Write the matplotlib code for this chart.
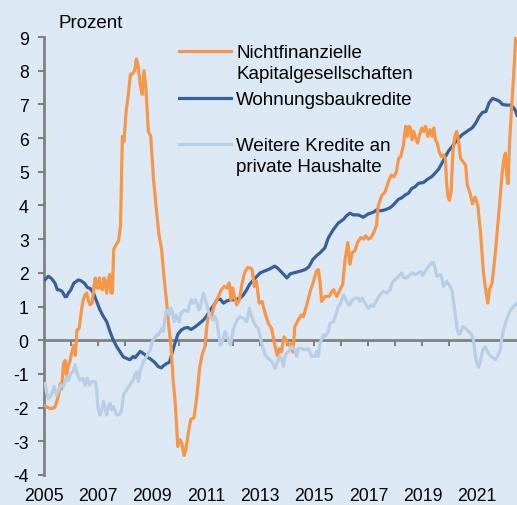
import matplotlib
matplotlib.use("Agg")
import matplotlib.pyplot as plt
from matplotlib.lines import Line2D

plt.rcParams['font.family'] = ['Liberation Sans', 'DejaVu Sans']
plt.rcParams['axes.unicode_minus'] = False

# ---------------- data ----------------
orange_years = [2005.04, 2005.15, 2005.25, 2005.4, 2005.48, 2005.55, 2005.6, 2005.65, 2005.72, 2005.78,
                2005.83, 2005.9, 2005.97, 2006.03, 2006.1, 2006.16, 2006.22, 2006.3, 2006.38, 2006.45,
                2006.52, 2006.58, 2006.64, 2006.7, 2006.78, 2006.85, 2006.9, 2006.95, 2007.0, 2007.05,
                2007.1, 2007.16, 2007.22, 2007.27, 2007.32, 2007.37, 2007.43, 2007.48, 2007.53, 2007.58,
                2007.68, 2007.76, 2007.83, 2007.9, 2007.96, 2008.04, 2008.12, 2008.2, 2008.27, 2008.35,
                2008.42, 2008.48, 2008.56, 2008.63, 2008.7, 2008.77, 2008.86, 2008.95, 2009.05, 2009.15,
                2009.25, 2009.35, 2009.45, 2009.54, 2009.62, 2009.7, 2009.78, 2009.86, 2009.95, 2010.03,
                2010.1, 2010.18, 2010.25, 2010.33, 2010.43, 2010.55, 2010.65, 2010.76, 2010.86, 2010.95,
                2011.03, 2011.1, 2011.2, 2011.3, 2011.43, 2011.56, 2011.68, 2011.78, 2011.85, 2011.92,
                2011.98, 2012.05, 2012.13, 2012.23, 2012.32, 2012.42, 2012.52, 2012.62, 2012.7, 2012.78,
                2012.86, 2012.96, 2013.07, 2013.18, 2013.3, 2013.42, 2013.54, 2013.63, 2013.7, 2013.78,
                2013.88, 2013.96, 2014.06, 2014.14, 2014.21, 2014.28, 2014.4, 2014.52, 2014.6, 2014.72,
                2014.85, 2014.97, 2015.08, 2015.15, 2015.21, 2015.27, 2015.4, 2015.55, 2015.65, 2015.72,
                2015.83, 2015.95, 2016.05, 2016.14, 2016.24, 2016.32, 2016.4, 2016.5, 2016.6, 2016.72,
                2016.82, 2016.9, 2017.0, 2017.1, 2017.2, 2017.3, 2017.37, 2017.5, 2017.62, 2017.74,
                2017.85, 2017.95, 2018.04, 2018.12, 2018.2, 2018.3, 2018.38, 2018.45, 2018.5, 2018.56,
                2018.62, 2018.68, 2018.75, 2018.82, 2018.9, 2018.98, 2019.05, 2019.12, 2019.2, 2019.28,
                2019.36, 2019.42, 2019.48, 2019.55, 2019.62, 2019.7, 2019.78, 2019.85, 2019.9, 2019.95,
                2020.0, 2020.06, 2020.13, 2020.2, 2020.27, 2020.34, 2020.41, 2020.5, 2020.6, 2020.66,
                2020.77, 2020.85, 2020.95, 2021.05, 2021.15, 2021.26, 2021.34, 2021.42, 2021.48, 2021.58,
                2021.7, 2021.83, 2021.95, 2022.02, 2022.07, 2022.12, 2022.17, 2022.22, 2022.3, 2022.38,
                2022.45, 2022.5]
orange_vals = [-1.95, -2.0, -2.03, -2.0, -1.8, -1.6, -1.3, -1.45, -0.7, -0.6,
               -1.05, -0.75, -0.6, -0.35, -0.15, -0.45, 0.3, 0.35, 0.85, 1.2,
               1.35, 1.4, 1.2, 1.05, 1.1, 1.6, 1.85, 1.55, 1.55, 1.85,
               1.55, 1.5, 1.85, 1.7, 1.4, 1.75, 1.95, 1.4, 1.4, 2.7,
               2.85, 2.95, 3.4, 6.05, 5.9, 6.8, 7.3, 7.9, 7.9, 8.0,
               8.35, 8.15, 7.6, 7.3, 8.0, 7.5, 6.2, 6.05, 4.8, 3.95,
               3.15, 2.7, 1.8, 1.1, 0.4, -0.2, -1.2, -1.9, -3.15, -2.95,
               -3.05, -3.42, -3.25, -2.8, -2.35, -2.3, -1.7, -0.8, -0.4, -0.2,
               0.45, 0.8, 0.7, 1.05, 1.25, 1.5, 1.6, 1.55, 1.7, 1.2,
               1.55, 1.3, 1.05, 1.2, 1.65, 2.0, 2.15, 2.15, 2.1, 1.6,
               1.75, 1.1, 1.15, 0.8, 0.5, 0.35, -0.15, -0.45, -0.25, -0.35,
               0.1, 0.0, -0.15, -0.1, -0.35, 0.4, 0.6, 0.75, 0.7, 1.05,
               1.45, 1.75, 2.05, 2.1, 1.75, 1.15, 1.3, 1.3, 1.45, 1.5,
               1.3, 1.5, 1.65, 2.4, 2.9, 2.25, 2.6, 2.65, 2.9, 3.05,
               3.0, 3.1, 3.0, 3.05, 3.2, 3.4, 4.0, 4.3, 4.4, 4.7,
               4.9, 4.85, 5.0, 5.4, 5.45, 5.8, 6.35, 6.05, 6.35, 6.3,
               5.95, 6.2, 6.0, 5.85, 6.1, 6.3, 6.2, 6.35, 6.05, 6.25,
               6.05, 6.3, 5.95, 5.85, 5.6, 5.45, 5.5, 5.4, 4.6, 4.25,
               4.15, 4.4, 5.6, 6.05, 6.2, 5.9, 5.4, 5.3, 5.2, 4.6,
               4.35, 4.05, 4.25, 4.0, 3.2, 2.0, 1.5, 1.1, 1.5, 1.7,
               2.6, 3.8, 4.95, 5.4, 5.55, 4.9, 4.65, 5.8, 6.9, 7.9,
               8.95, 9.1]

blue_years = [2005.04, 2005.16, 2005.28, 2005.41, 2005.49, 2005.59, 2005.68, 2005.78, 2005.84, 2005.9,
              2005.99, 2006.1, 2006.27, 2006.38, 2006.5, 2006.6, 2006.7, 2006.83, 2006.95, 2007.07,
              2007.2, 2007.32, 2007.44, 2007.56, 2007.69, 2007.81, 2007.94, 2008.06, 2008.18, 2008.3,
              2008.37, 2008.49, 2008.56, 2008.65, 2008.74, 2008.8, 2008.93, 2009.1, 2009.22, 2009.34,
              2009.43, 2009.52, 2009.64, 2009.68, 2009.73, 2009.84, 2009.96, 2010.09, 2010.2, 2010.32,
              2010.44, 2010.56, 2010.68, 2010.78, 2010.9, 2011.0, 2011.15, 2011.27, 2011.4, 2011.52,
              2011.64, 2011.77, 2011.9, 2012.02, 2012.14, 2012.26, 2012.38, 2012.5, 2012.6, 2012.75,
              2012.88, 2013.0, 2013.18, 2013.36, 2013.54, 2013.67, 2013.85, 2013.99, 2014.11, 2014.3,
              2014.48, 2014.67, 2014.8, 2014.95, 2015.1, 2015.22, 2015.39, 2015.52, 2015.7, 2015.89,
              2016.07, 2016.2, 2016.32, 2016.45, 2016.63, 2016.81, 2017.0, 2017.19, 2017.31, 2017.45,
              2017.62, 2017.8, 2017.93, 2018.11, 2018.24, 2018.36, 2018.48, 2018.6, 2018.72, 2018.86,
              2019.04, 2019.16, 2019.35, 2019.47, 2019.6, 2019.72, 2019.85, 2019.97, 2020.1, 2020.22,
              2020.35, 2020.47, 2020.6, 2020.72, 2020.84, 2020.97, 2021.1, 2021.22, 2021.35, 2021.47,
              2021.6, 2021.72, 2021.84, 2021.96, 2022.09, 2022.27, 2022.38, 2022.45, 2022.5]
blue_vals = [1.8, 1.9, 1.83, 1.69, 1.5, 1.49, 1.44, 1.29, 1.3, 1.4,
             1.49, 1.69, 1.79, 1.76, 1.69, 1.57, 1.54, 1.4, 1.15, 0.9,
             0.7, 0.55, 0.26, 0.01, -0.19, -0.34, -0.5, -0.54, -0.58, -0.48,
             -0.52, -0.4, -0.33, -0.38, -0.43, -0.5, -0.55, -0.66, -0.78, -0.82,
             -0.75, -0.7, -0.65, -0.55, -0.4, -0.1, 0.19, 0.31, 0.36, 0.38,
             0.32, 0.38, 0.45, 0.52, 0.6, 0.7, 0.9, 1.02, 1.2, 1.22,
             1.1, 1.17, 1.2, 1.2, 1.22, 1.25, 1.35, 1.5, 1.65, 1.79,
             1.9, 2.0, 2.06, 2.12, 2.2, 2.12, 1.97, 1.85, 1.97, 2.01,
             2.05, 2.1, 2.18, 2.4, 2.52, 2.6, 2.74, 3.04, 3.28, 3.48,
             3.58, 3.7, 3.77, 3.72, 3.72, 3.65, 3.75, 3.8, 3.87, 3.84,
             3.87, 3.93, 4.02, 4.18, 4.23, 4.31, 4.36, 4.5, 4.55, 4.66,
             4.68, 4.76, 4.86, 4.96, 5.08, 5.25, 5.45, 5.62, 5.75, 5.88,
             6.0, 6.1, 6.17, 6.24, 6.3, 6.44, 6.64, 6.76, 6.79, 7.05,
             7.18, 7.14, 7.1, 7.0, 6.98, 6.98, 6.9, 6.8, 6.68]

light_years = [2005.04, 2005.1, 2005.16, 2005.24, 2005.3, 2005.37, 2005.46, 2005.53, 2005.63, 2005.72,
               2005.84, 2005.9, 2005.99, 2006.07, 2006.15, 2006.22, 2006.33, 2006.45, 2006.52, 2006.6,
               2006.68, 2006.77, 2006.9, 2006.95, 2006.99, 2007.07, 2007.13, 2007.2, 2007.27, 2007.32,
               2007.38, 2007.44, 2007.5, 2007.57, 2007.69, 2007.81, 2007.87, 2007.94, 2008.06, 2008.18,
               2008.3, 2008.37, 2008.43, 2008.49, 2008.56, 2008.68, 2008.8, 2008.93, 2009.0, 2009.17,
               2009.24, 2009.3, 2009.36, 2009.42, 2009.46, 2009.52, 2009.58, 2009.64, 2009.7, 2009.76,
               2009.82, 2009.88, 2010.0, 2010.06, 2010.2, 2010.32, 2010.4, 2010.46, 2010.52, 2010.6,
               2010.66, 2010.73, 2010.79, 2010.84, 2010.9, 2011.0, 2011.07, 2011.15, 2011.27, 2011.33,
               2011.4, 2011.46, 2011.52, 2011.58, 2011.64, 2011.7, 2011.77, 2011.9, 2012.0, 2012.14,
               2012.26, 2012.38, 2012.5, 2012.55, 2012.6, 2012.67, 2012.73, 2012.85, 2012.93, 2013.05,
               2013.18, 2013.3, 2013.42, 2013.55, 2013.61, 2013.67, 2013.73, 2013.8, 2013.86, 2013.92,
               2014.04, 2014.16, 2014.29, 2014.35, 2014.41, 2014.53, 2014.66, 2014.78, 2014.9, 2015.03,
               2015.09, 2015.15, 2015.21, 2015.34, 2015.4, 2015.52, 2015.58, 2015.71, 2015.83, 2015.89,
               2015.95, 2016.08, 2016.17, 2016.26, 2016.32, 2016.41, 2016.51, 2016.63, 2016.69, 2016.78,
               2016.88, 2017.0, 2017.13, 2017.19, 2017.31, 2017.44, 2017.56, 2017.68, 2017.81, 2017.88,
               2017.99, 2018.12, 2018.24, 2018.3, 2018.42, 2018.55, 2018.61, 2018.73, 2018.86, 2018.93,
               2019.0, 2019.1, 2019.23, 2019.35, 2019.41, 2019.47, 2019.53, 2019.66, 2019.72, 2019.78,
               2019.9, 2020.03, 2020.1, 2020.21, 2020.28, 2020.34, 2020.4, 2020.49, 2020.6, 2020.71,
               2020.8, 2020.89, 2020.95, 2021.02, 2021.08, 2021.15, 2021.23, 2021.32, 2021.45, 2021.57,
               2021.7, 2021.8, 2021.88, 2021.94, 2022.0, 2022.13, 2022.25, 2022.37, 2022.5]
light_vals = [-1.28, -1.57, -1.72, -1.68, -1.57, -1.37, -1.62, -1.5, -1.33, -1.38,
              -1.08, -1.2, -0.98, -0.95, -0.73, -0.98, -1.18, -1.13, -1.33, -1.13,
              -1.33, -1.23, -1.23, -1.5, -1.97, -2.22, -2.07, -1.82, -2.07, -2.22,
              -1.97, -1.87, -2.07, -1.97, -2.22, -2.2, -2.07, -1.62, -1.47, -1.33,
              -1.18, -1.03, -0.93, -1.23, -0.93, -0.63, -0.48, -0.29, -0.04, 0.16,
              0.16, 0.26, 0.36, 0.26, 0.6, 0.85, 0.9, 0.75, 0.95, 0.8,
              0.55, 0.75, 0.55, 0.8, 0.9, 0.85, 1.1, 1.2, 1.1, 1.2,
              1.1, 0.9, 1.0, 1.2, 1.4, 1.1, 0.9, 0.7, 0.6, 0.7,
              0.55, 0.2, -0.14, -0.09, 0.06, 0.26, 0.11, -0.14, 0.31, 0.6,
              0.7, 0.65, 0.55, 0.75, 0.95, 0.75, 0.6, 0.4, 0.36, -0.09,
              -0.44, -0.54, -0.63, -0.83, -0.7, -0.58, -0.48, -0.58, -0.78, -0.44,
              -0.34, -0.19, -0.29, -0.48, -0.24, -0.24, -0.29, -0.24, -0.48, -0.48,
              -0.33, -0.48, -0.09, 0.16, 0.11, 0.26, 0.5, 0.55, 0.85, 1.0,
              1.05, 1.35, 1.2, 1.05, 1.05, 1.2, 1.25, 1.25, 1.15, 1.25,
              1.1, 0.95, 1.05, 1.0, 1.2, 1.35, 1.45, 1.4, 1.5, 1.7,
              1.8, 1.9, 2.0, 1.85, 1.85, 1.95, 2.0, 1.95, 2.0, 2.04,
              1.92, 2.04, 2.2, 2.3, 2.3, 2.14, 1.9, 1.95, 1.85, 1.6,
              1.75, 1.6, 1.45, 0.8, 0.36, 0.18, 0.2, 0.4, 0.35, 0.26,
              0.2, 0.0, -0.4, -0.7, -0.8, -0.6, -0.3, -0.2, -0.4, -0.5,
              -0.58, -0.45, -0.29, 0.05, 0.31, 0.65, 0.88, 1.0, 1.1]

series_labels = ["Nichtfinanzielle\nKapitalgesellschaften", "Wohnungsbaukredite", "Weitere Kredite an\nprivate Haushalte"]
y_ticks = list(range(-4, 10))
x_tick_marks = list(range(2006, 2021))
x_label_years = list(range(2005, 2022, 2))

# ---------------- style ----------------
BG = '#dce9f5'
C_ORANGE = '#f79646'
C_BLUE = '#37609a'
C_LIGHT = '#b9cde5'
GRAY = '#808080'
FS_TICK = 12.7
FS_TEXT = 13.5

W, H = 517, 506
fig = plt.figure(figsize=(W / 100, H / 100), dpi=100, facecolor=BG)
ax = fig.add_axes([44 / W, 30 / H, (W - 44) / W, (476 - 38) / H])
ax.set_facecolor(BG)

lw = 2.3
ax.plot(blue_years, blue_vals, color=C_BLUE, lw=lw, zorder=3, solid_joinstyle='round')
ax.plot(orange_years, orange_vals, color=C_ORANGE, lw=lw, zorder=4, solid_joinstyle='round')
ax.plot(light_years, light_vals, color=C_LIGHT, lw=lw, zorder=5, solid_joinstyle='round')

ax.set_xlim(2005, 2022.5)
ax.set_ylim(-4, 9)

for s in ('top', 'right'):
    ax.spines[s].set_visible(False)
ax.spines['left'].set_color(GRAY)
ax.spines['left'].set_linewidth(2)
ax.spines['bottom'].set_position(('data', 0))
ax.spines['bottom'].set_color(GRAY)
ax.spines['bottom'].set_linewidth(2)
ax.spines['bottom'].set_zorder(2)

ax.set_yticks(y_ticks)
ax.set_yticklabels([str(v) for v in y_ticks])
ax.tick_params(axis='y', direction='out', length=4, width=1.5, color=GRAY,
               labelsize=FS_TICK, pad=7, labelcolor='black')

ax.set_xticks(x_tick_marks)
ax.tick_params(axis='x', direction='out', length=4, width=1.5, color=GRAY,
               labelbottom=False)

sec = ax.secondary_xaxis('bottom')
sec.set_xticks(x_label_years)
sec.set_xticklabels([str(y) for y in x_label_years])
sec.tick_params(length=0, labelsize=FS_TICK, pad=8.3, labelcolor='black')
sec.spines['bottom'].set_visible(False)

fig.text(59 / W, 1 - 24 / H, 'Prozent', fontsize=FS_TEXT, va='center', ha='left')

# legend (handles aligned with first text line)
leg_colors = [C_ORANGE, C_BLUE, C_LIGHT]
leg_line_y = [52, 98.5, 145]
for lab, col, yy in zip(series_labels, leg_colors, leg_line_y):
    fig.add_artist(Line2D([179 / W, 231 / W], [1 - yy / H, 1 - yy / H],
                          transform=fig.transFigure, color=col, lw=lw))
    fig.text(236 / W, 1 - (yy - 6.8) / H, lab, fontsize=FS_TEXT, va='top', ha='left',
             linespacing=1.27)

fig.savefig('out.png', dpi=100, facecolor=BG)
